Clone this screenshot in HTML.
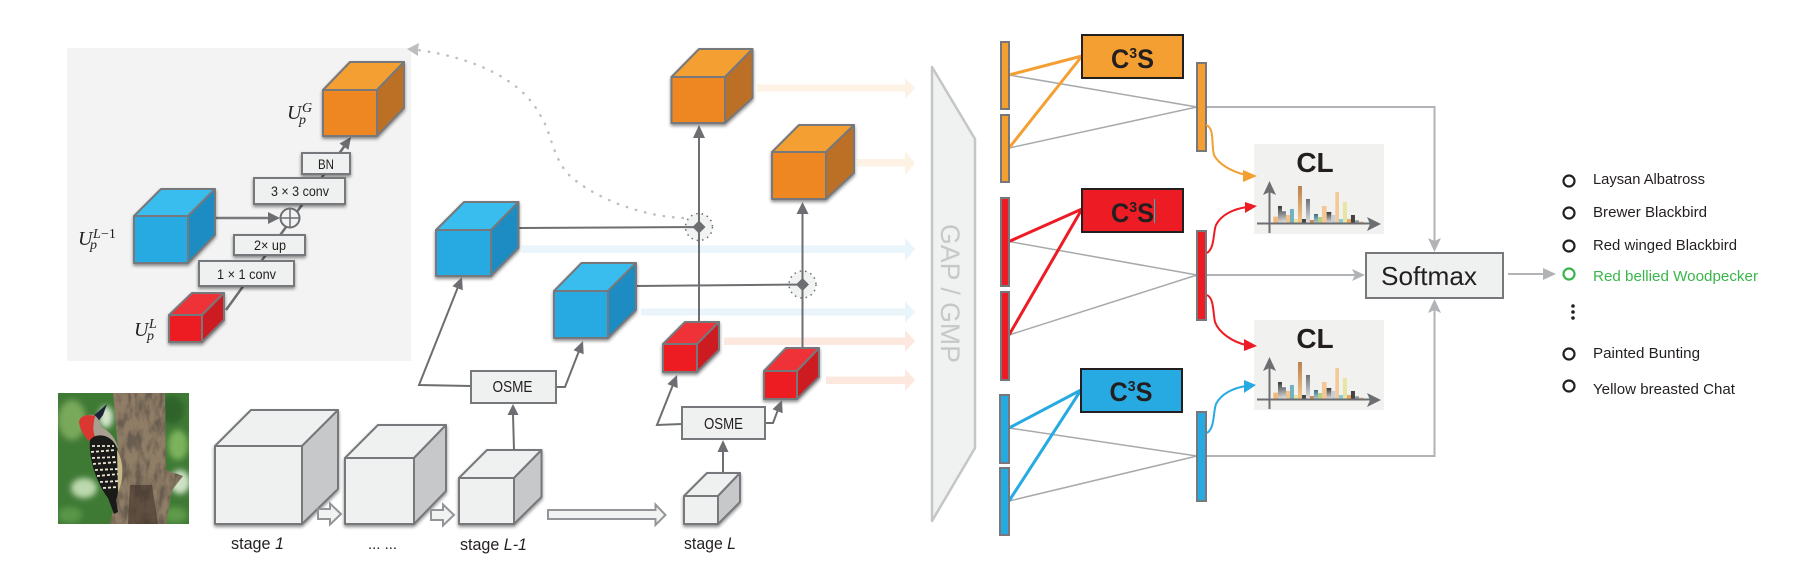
<!DOCTYPE html>
<html><head><meta charset="utf-8">
<style>
html,body{margin:0;padding:0;background:#fff}
svg{display:block}
text{font-family:"Liberation Sans",sans-serif;fill:#231f20}
.m{font-family:"Liberation Serif",serif;font-style:italic}
.c{stroke:#77787b;stroke-width:2;stroke-linejoin:round}
.l{stroke:#6d6e71;stroke-width:2;fill:none}
.g{stroke:#a7a9ac;stroke-width:1.5;fill:none}
.g2{stroke:#b1b3b6;stroke-width:2;fill:none}
.h{fill:#6d6e71}
.ha{fill:#b1b3b6}
.bx{fill:#eff0f0;stroke:#77787b;stroke-width:2}
.bar{stroke:#77787b;stroke-width:2}
</style></head><body>
<svg width="1803" height="572" viewBox="0 0 1803 572" xmlns="http://www.w3.org/2000/svg">
<defs>
<filter id="s" x="-20%" y="-20%" width="140%" height="140%"><feDropShadow dx="0" dy="2" stdDeviation="1.600" flood-color="#000" flood-opacity=".45"/></filter>
<filter id="bl" x="-20%" y="-20%" width="140%" height="140%"><feGaussianBlur stdDeviation="3"/></filter>
<filter id="bk" x="0" y="0" width="100%" height="100%"><feTurbulence type="fractalNoise" baseFrequency=".14 .06" numOctaves="3" seed="4"/><feColorMatrix values="0 0 0 0 .14 0 0 0 0 .11 0 0 0 0 .08 3.2 0 0 0 -1.250"/><feComposite in2="SourceGraphic" operator="in"/><feMerge><feMergeNode in="SourceGraphic"/><feMergeNode/></feMerge></filter>
<clipPath id="pic"><rect x="58" y="393" width="131" height="131"/></clipPath>
<linearGradient id="fa" x1="0" y1="0" x2="0" y2="1"><stop offset="0" stop-color="#3a3a3a"/><stop offset="1" stop-color="#d8d8d8"/></linearGradient>
<linearGradient id="fb" x1="0" y1="0" x2="0" y2="1"><stop offset="0" stop-color="#6b7177"/><stop offset="1" stop-color="#dde0e2"/></linearGradient>
<linearGradient id="fc" x1="0" y1="0" x2="0" y2="1"><stop offset="0" stop-color="#b9824f"/><stop offset="1" stop-color="#f6c48c"/></linearGradient>
<linearGradient id="fd" x1="0" y1="0" x2="0" y2="1"><stop offset="0" stop-color="#3d6f7c"/><stop offset="1" stop-color="#a5cdd4"/></linearGradient>
<g id="chart">
<g transform="translate(980 20) scale(.3333)">
<rect x="880" y="590" width="14" height="18" fill="#f3b97c"/>
<rect x="894" y="558" width="12" height="50" fill="url(#fa)"/>
<rect x="906" y="574" width="12" height="34" fill="url(#fb)"/>
<rect x="918" y="585" width="12" height="23" fill="#f3c189"/>
<rect x="930" y="567" width="12" height="41" fill="#6fb3c3"/>
<rect x="942" y="597" width="12" height="11" fill="#e6e49e"/>
<rect x="954" y="498" width="12" height="110" fill="url(#fc)"/>
<rect x="966" y="597" width="12" height="11" fill="#444"/>
<rect x="978" y="537" width="12" height="71" fill="url(#fb)"/>
<rect x="990" y="600" width="12" height="8" fill="#d08c52"/>
<rect x="1002" y="582" width="12" height="26" fill="url(#fd)"/>
<rect x="1014" y="591" width="12" height="17" fill="#b6cf85"/>
<rect x="1026" y="558" width="14" height="50" fill="#f3c696"/>
<rect x="1040" y="576" width="14" height="32" fill="url(#fa)"/>
<rect x="1054" y="585" width="12" height="23" fill="#c5d0d6"/>
<rect x="1066" y="516" width="11" height="92" fill="#f4c997"/>
<rect x="1077" y="597" width="12" height="11" fill="#84cbde"/>
<rect x="1089" y="546" width="12" height="62" fill="#e6e6a3"/>
<rect x="1101" y="597" width="12" height="11" fill="#eea765"/>
<rect x="1113" y="585" width="12" height="23" fill="#444"/>
<rect x="1125" y="601" width="12" height="7" fill="#8a9aa3"/>
<rect x="1137" y="605" width="14" height="3" fill="#f0b27a"/>
</g>
<path d="M1269.500 233V190M1257 223.500H1372" stroke="#6d6e71" stroke-width="2" fill="none"/>
<polygon points="1269.500,181 1263,195 1269.500,192 1276,195" class="h"/>
<polygon points="1381,224 1367,217 1370,224 1367,231" class="h"/>
</g>
</defs>

<!-- inset -->
<rect x="67" y="48" width="344" height="313" fill="#f3f3f3"/>

<!-- inset connectors -->
<path d="M226 310L346 144" stroke="#6d6e71" stroke-width="2.500" fill="none"/>
<polygon points="351,137 348.500,149.900 339.500,143.500" class="h"/>
<path d="M216 218H270" stroke="#77787b" stroke-width="2.500"/>
<polygon points="280,218 268,212 268,224" class="h"/>

<!-- inset cubes -->
<g filter="url(#s)" class="c">
<polygon points="323,90 350,62 404,62 377,90" fill="#f39f32"/>
<polygon points="377,90 404,62 404,108 377,136" fill="#bb6f28"/>
<rect x="323" y="90" width="54" height="46" fill="#ee8722"/>
</g>
<g filter="url(#s)" class="c">
<polygon points="134,216 161,189 215,189 188,216" fill="#39bdee"/>
<polygon points="188,216 215,189 215,235 188,263" fill="#1a8cc2"/>
<rect x="134" y="216" width="54" height="47" fill="#27aae1"/>
</g>
<g filter="url(#s)" class="c">
<polygon points="169,315 192,293 224,293 202,315" fill="#ee3338"/>
<polygon points="202,315 224,293 224,320 202,342" fill="#cc1f24"/>
<rect x="169" y="315" width="33" height="27" fill="#ed1c24"/>
</g>

<!-- inset boxes -->
<g filter="url(#s)">
<rect x="302" y="153" width="48" height="21" class="bx"/>
<rect x="254" y="178" width="91" height="26" class="bx"/>
<rect x="234" y="235" width="71" height="20" class="bx"/>
<rect x="199" y="261" width="95" height="25" class="bx"/>
</g>
<text x="318" y="169" font-size="14" textLength="16" lengthAdjust="spacingAndGlyphs">BN</text>
<text x="271" y="196" font-size="14" textLength="58" lengthAdjust="spacingAndGlyphs">3 × 3 conv</text>
<text x="254" y="250" font-size="14" textLength="32" lengthAdjust="spacingAndGlyphs">2× up</text>
<text x="217" y="279" font-size="14" textLength="59" lengthAdjust="spacingAndGlyphs">1 × 1 conv</text>
<circle cx="290" cy="218" r="9.500" fill="#f1f2f2" stroke="#6d6e71" stroke-width="2"/>
<path d="M280.500 218H299.500M290 208.500V227.500" stroke="#6d6e71" stroke-width="1.500"/>

<!-- math labels -->
<text class="m" x="287" y="119" font-size="20">U</text><text class="m" x="302" y="112" font-size="14">G</text><text class="m" x="299" y="124" font-size="14">p</text>
<text class="m" x="78" y="245" font-size="20">U</text><text class="m" x="93" y="238" font-size="14">L</text><text x="101" y="238" font-size="14" style="font-family:'Liberation Serif',serif">−1</text><text class="m" x="90" y="249" font-size="14">p</text>
<text class="m" x="134" y="336" font-size="20">U</text><text class="m" x="149" y="328" font-size="14">L</text><text class="m" x="147" y="340" font-size="14">p</text>

<!-- picture -->
<g clip-path="url(#pic)">
<rect x="58" y="393" width="131" height="131" fill="#3f7a35"/>
<g filter="url(#bl)">
<ellipse cx="72" cy="420" rx="14" ry="20" fill="#78a85a"/>
<ellipse cx="106" cy="417" rx="7" ry="11" fill="#d5e6cd"/>
<ellipse cx="84" cy="488" rx="13" ry="10" fill="#bcd9ae"/>
<ellipse cx="172" cy="410" rx="12" ry="14" fill="#2f6329"/>
<ellipse cx="178" cy="445" rx="10" ry="15" fill="#7bb25c"/>
<ellipse cx="180" cy="482" rx="10" ry="12" fill="#cfe2c6"/>
<ellipse cx="70" cy="515" rx="12" ry="8" fill="#5a9647"/>
<ellipse cx="175" cy="515" rx="12" ry="8" fill="#5f9a49"/>
</g>
<polygon points="113,393 165,393 166,470 183,476 172,490 166,524 110,524 118,490 120,470" fill="#8f7d66" filter="url(#bk)"/>
<path d="M130 485h22l6 39h-30z" fill="#3f3027" opacity=".6"/>
<path d="M92 417L98 412L107 404L103 415L97 423Z" fill="#1d2238"/>
<path d="M88 415C96 413 100 420 101 427C108 430 116 438 118 448L96 442Z" fill="#a89f92"/>
<path d="M79 422C80 415 88 414 95 416C93 425 92 432 97 441L89 441C84 436 80 430 79 422Z" fill="#d9372f"/>
<path d="M90 440C96 432 112 434 117 448C120 468 120 490 116 500L118 512L114 514L108 498C98 485 88 460 90 440Z" fill="#1a1a18"/>
<path d="M92 446l22 0M91 452l25-2M92 458l25-1M93 464l25-2M95 470l24-1M97 476l22-2M100 482l19-1M103 488l15-1" stroke="#ece6d2" stroke-width="1.800" stroke-dasharray="3 2" fill="none"/>
<path d="M117 450C124 462 124 480 118 492Z" fill="#c7b88a"/>
</g>

<!-- stage cubes -->
<g filter="url(#s)" class="c">
<polygon points="215,446 251,410 338,410 302,446" fill="#eff0f0"/>
<polygon points="302,446 338,410 338,489 302,524" fill="#c6c8ca"/>
<rect x="215" y="446" width="87" height="78" fill="#eff0f0"/>
</g>
<g filter="url(#s)" class="c">
<polygon points="345,458 378,425 446,425 414,458" fill="#eff0f0"/>
<polygon points="414,458 446,425 446,491 414,524" fill="#c6c8ca"/>
<rect x="345" y="458" width="69" height="66" fill="#eff0f0"/>
</g>
<g filter="url(#s)" class="c">
<polygon points="459,478 487,450 541.500,450 514,478" fill="#eff0f0"/>
<polygon points="514,478 541.500,450 541.500,497 514,524" fill="#c6c8ca"/>
<rect x="459" y="478" width="55" height="46" fill="#eff0f0"/>
</g>
<g filter="url(#s)" class="c">
<polygon points="684,496 707,473 740,473 718,496" fill="#eff0f0"/>
<polygon points="718,496 740,473 740,502 718,524" fill="#c6c8ca"/>
<rect x="684" y="496" width="34" height="28" fill="#eff0f0"/>
</g>

<!-- hollow arrows -->
<g fill="#f1f2f2" stroke="#939598" stroke-width="2">
<polygon points="318,509 330,509 330,503.500 341,514 330,524.500 330,519 318,519"/>
<polygon points="431,510 443,510 443,504.500 454,515 443,525.500 443,520 431,520"/>
<polygon points="548,510 655.500,510 655.500,504.500 665.500,515 655.500,525 655.500,519 548,519"/>
</g>

<!-- stage labels -->
<text x="231" y="549" font-size="17" textLength="53" lengthAdjust="spacingAndGlyphs">stage <tspan font-style="italic">1</tspan></text>
<text x="368" y="549" font-size="15" textLength="29" lengthAdjust="spacingAndGlyphs">... ...</text>
<text x="460" y="550" font-size="17" textLength="67" lengthAdjust="spacingAndGlyphs">stage <tspan font-style="italic">L-1</tspan></text>
<text x="684" y="549" font-size="17" textLength="52" lengthAdjust="spacingAndGlyphs">stage <tspan font-style="italic">L</tspan></text>

<!-- light arrows -->
<g>
<polygon points="757,84.500 905,84.500 905,78 915,88 905,99 905,91.500 757,91.500" fill="#fdf2e4"/>
<polygon points="857,159 905,159 905,151 915,163 905,175 905,166.500 857,166.500" fill="#fdf2e4"/>
<polygon points="522,245.500 905,245.500 905,238 915,249 905,261 905,253 522,253" fill="#e9f4fb"/>
<polygon points="641,308.500 905,308.500 905,301 915,312 905,323 905,315.500 641,315.500" fill="#e9f4fb"/>
<polygon points="724,337.500 905,337.500 905,330 915,341 905,352 905,345 724,345" fill="#fde8df"/>
<polygon points="826,376.500 905,376.500 905,369 915,380 905,391 905,384 826,384" fill="#fde8df"/>
</g>

<!-- dotted feedback -->
<path d="M683 218C640 216 595 198 570 176C552 158 551 130 540 115C522 80 475 58 418 50" fill="none" stroke="#bcbec0" stroke-width="2.400" stroke-dasharray="0.500 9" stroke-linecap="round"/>
<polygon points="407,49 419,43 418,50 418,56" fill="#bcbec0"/>

<!-- mid connectors -->
<circle cx="699" cy="227" r="13.500" fill="#f1f2f2" stroke="#6d6e71" stroke-width="1.500" stroke-dasharray="1.500 4"/>
<circle cx="802.500" cy="284.500" r="13.500" fill="#f1f2f2" stroke="#6d6e71" stroke-width="1.500" stroke-dasharray="1.500 4"/>
<path class="l" d="M699 322V135M802.500 348V212M519 228L699 227M636 286L802.500 284.500"/>
<polygon class="h" points="699,125 693,138 705,138"/>
<polygon class="h" points="802.500,202 796.500,214 808.500,214"/>
<polygon class="h" points="699,220.500 705.500,227 699,233.500 692.500,227"/>
<polygon class="h" points="802.500,278 809,284.500 802.500,291 796,284.500"/>

<!-- mid cubes -->
<g filter="url(#s)" class="c">
<polygon points="671.500,77 699,49 752.500,49 725,77" fill="#f39f32"/>
<polygon points="725,77 752.500,49 752.500,98 725,123" fill="#bb6f28"/>
<rect x="671.500" y="77" width="53.500" height="46" fill="#ee8722"/>
</g>
<g filter="url(#s)" class="c">
<polygon points="772,152 799,125 854,125 826,152" fill="#f39f32"/>
<polygon points="826,152 854,125 854,173 826,199" fill="#bb6f28"/>
<rect x="772" y="152" width="54" height="47" fill="#ee8722"/>
</g>
<g filter="url(#s)" class="c">
<polygon points="436,230 464,202 518.500,202 491,230" fill="#39bdee"/>
<polygon points="491,230 518.500,202 518.500,248 491,276" fill="#1a8cc2"/>
<rect x="436" y="230" width="55" height="46" fill="#27aae1"/>
</g>
<g filter="url(#s)" class="c">
<polygon points="554,291 581.500,263 636,263 608,291" fill="#39bdee"/>
<polygon points="608,291 636,263 636,310 608,338" fill="#1a8cc2"/>
<rect x="554" y="291" width="54" height="47" fill="#27aae1"/>
</g>
<g filter="url(#s)" class="c">
<polygon points="663,344 685,322 719,322 697,344" fill="#ee3338"/>
<polygon points="697,344 719,322 719,350 697,372" fill="#cc1f24"/>
<rect x="663" y="344" width="34" height="28" fill="#ed1c24"/>
</g>
<g filter="url(#s)" class="c">
<polygon points="764,371 786,348 819,348 797,371" fill="#ee3338"/>
<polygon points="797,371 819,348 819,377 797,399" fill="#cc1f24"/>
<rect x="764" y="371" width="33" height="28" fill="#ed1c24"/>
</g>

<!-- OSME connectors -->
<path class="l" d="M514 450L513 414M471 386L419 385L458 287M556 387H565L579 351M723 473V451M682 424L657 425L672.500 386M765 423H773L777.500 411"/>
<polygon class="h" points="513,404 507.500,415 518.500,415"/>
<polygon class="h" points="462,277 462.800,290.200 452.400,286.200"/>
<polygon class="h" points="583,341 583.700,354.200 573.500,350.200"/>
<polygon class="h" points="723,440 717.500,452 728.500,452"/>
<polygon class="h" points="677,375 677.700,388.100 667.300,384.100"/>
<polygon class="h" points="782,400 782.700,413.200 772.500,409.200"/>
<rect x="471" y="371" width="85" height="32" class="bx"/>
<rect x="682" y="407" width="83" height="32" class="bx"/>
<text x="492.500" y="392" font-size="16" textLength="40" lengthAdjust="spacingAndGlyphs">OSME</text>
<text x="704" y="429" font-size="16" textLength="39" lengthAdjust="spacingAndGlyphs">OSME</text>

<!-- GAP/GMP -->
<polygon points="932,67 975,139 975,448 932,521" fill="#f0f1f1" stroke="#c4c6c7" stroke-width="2.500" stroke-linejoin="round"/>
<text transform="translate(941 224) rotate(90)" font-size="27" textLength="139" lengthAdjust="spacingAndGlyphs" style="fill:#c5c7c8">GAP / GMP</text>

<!-- gray lines right -->
<path class="g" d="M1009 75L1197 107M1009 148L1197 107M1009 241.500L1197 275M1009 335L1197 275M1009 428L1197 456M1009 501L1197 456"/>
<path class="g2" d="M1206 107H1434.500V243M1206 275H1357M1206 456H1434.500V308M1508 274H1545"/>
<polygon class="ha" points="1434.500,252 1428,238 1434.500,241 1441,238"/>
<polygon class="ha" points="1365,275 1352,269 1355,275 1352,281"/>
<polygon class="ha" points="1434.500,299 1428,313 1434.500,310 1441,313"/>
<polygon class="ha" points="1556,274 1543,268 1543,280"/>

<!-- colored thick lines -->
<g fill="none" stroke-width="3">
<path d="M1009 75L1082 56M1009 148L1082 56" stroke="#f39f32"/>
<path d="M1009 241.500L1082 209M1009 335L1082 209" stroke="#ed1c24"/>
<path d="M1009 428L1081 390M1009 501L1081 390" stroke="#27aae1"/>
</g>

<!-- bars -->
<g class="bar">
<rect x="1001" y="42" width="8" height="67" fill="#f39f32"/>
<rect x="1001" y="115" width="8" height="67" fill="#f39f32"/>
<rect x="1197" y="63" width="9" height="88" fill="#f39f32"/>
<rect x="1001" y="198" width="8" height="88" fill="#ed1c24"/>
<rect x="1001" y="292" width="8" height="88" fill="#ed1c24"/>
<rect x="1197" y="231" width="9" height="89" fill="#ed1c24"/>
<rect x="1000" y="395" width="9" height="68" fill="#27aae1"/>
<rect x="1000" y="468" width="9" height="67" fill="#27aae1"/>
<rect x="1197" y="412" width="9" height="89" fill="#27aae1"/>
</g>

<!-- C3S boxes -->
<rect x="1082" y="35" width="101" height="43" fill="#f39f32" stroke="#231f20" stroke-width="2"/>
<rect x="1082" y="189" width="101" height="43" fill="#ed1c24" stroke="#231f20" stroke-width="2"/>
<rect x="1081" y="369" width="101" height="43" fill="#27aae1" stroke="#231f20" stroke-width="2"/>
<text x="1111" y="68" font-size="27" font-weight="bold" textLength="43" lengthAdjust="spacingAndGlyphs">C<tspan font-size="15" dy="-10">3</tspan><tspan dy="10">S</tspan></text>
<text x="1111" y="222" font-size="27" font-weight="bold" textLength="43" lengthAdjust="spacingAndGlyphs">C<tspan font-size="15" dy="-10">3</tspan><tspan dy="10">S</tspan></text>
<text x="1109.500" y="401" font-size="27" font-weight="bold" textLength="43" lengthAdjust="spacingAndGlyphs">C<tspan font-size="15" dy="-10">3</tspan><tspan dy="10">S</tspan></text>
<path d="M1154.500 199V223" stroke="#16c6c6" stroke-width="1"/>

<!-- CL panels -->
<rect x="1254" y="144" width="130" height="90" fill="#f1f1f0"/>
<rect x="1254" y="320" width="130" height="90" fill="#f1f1f0"/>
<text x="1315" y="172" font-size="28" font-weight="bold" text-anchor="middle">CL</text>
<text x="1315" y="348" font-size="28" font-weight="bold" text-anchor="middle">CL</text>
<use href="#chart"/>
<use href="#chart" y="-84" transform="translate(0 260)"/>

<!-- curved connectors -->
<g fill="none" stroke-width="2">
<path d="M1206 125C1215 128 1211 145 1214 155C1219 165 1233 172 1246 175" stroke="#f39f32"/>
<path d="M1207 253C1215 248 1213 232 1216 225C1221 215 1233 209 1247 207" stroke="#ed1c24"/>
<path d="M1207 295C1214 298 1213 313 1215 322C1219 333 1233 342 1246 345" stroke="#ed1c24"/>
<path d="M1207 433C1215 428 1213 412 1216 404C1221 394 1233 388 1246 386" stroke="#27aae1"/>
</g>
<polygon points="1257,176 1243,170 1243,182" fill="#f39f32"/>
<polygon points="1257,206 1245,202 1245,213" fill="#ed1c24"/>
<polygon points="1257,346 1244,339 1244,351" fill="#ed1c24"/>
<polygon points="1256,385 1244,380 1244,393" fill="#27aae1"/>

<!-- Softmax -->
<rect x="1366" y="253" width="137" height="45" class="bx"/>
<text x="1381" y="285" font-size="26" textLength="96" lengthAdjust="spacingAndGlyphs">Softmax</text>

<!-- list -->
<g fill="none" stroke="#231f20" stroke-width="2.200">
<circle cx="1569" cy="181" r="5.500"/>
<circle cx="1569" cy="213" r="5.500"/>
<circle cx="1569" cy="246" r="5.500"/>
<circle cx="1569" cy="274" r="5.500" stroke="#39b54a"/>
<circle cx="1569" cy="354" r="5.500"/>
<circle cx="1569" cy="386" r="5.500"/>
</g>
<text x="1593" y="184" font-size="15" textLength="112" lengthAdjust="spacingAndGlyphs">Laysan Albatross</text>
<text x="1593" y="217" font-size="15" textLength="114" lengthAdjust="spacingAndGlyphs">Brewer Blackbird</text>
<text x="1593" y="250" font-size="15" textLength="144" lengthAdjust="spacingAndGlyphs">Red winged Blackbird</text>
<text x="1593" y="281" font-size="15" textLength="165" lengthAdjust="spacingAndGlyphs" style="fill:#39b54a">Red bellied Woodpecker</text>
<text x="1593" y="358" font-size="15" textLength="107" lengthAdjust="spacingAndGlyphs">Painted Bunting</text>
<text x="1593" y="394" font-size="15" textLength="142" lengthAdjust="spacingAndGlyphs">Yellow breasted Chat</text>
<circle cx="1573" cy="306" r="1.800" fill="#231f20"/>
<circle cx="1573" cy="312" r="1.800" fill="#231f20"/>
<circle cx="1573" cy="318" r="1.800" fill="#231f20"/>
</svg>
</body></html>
